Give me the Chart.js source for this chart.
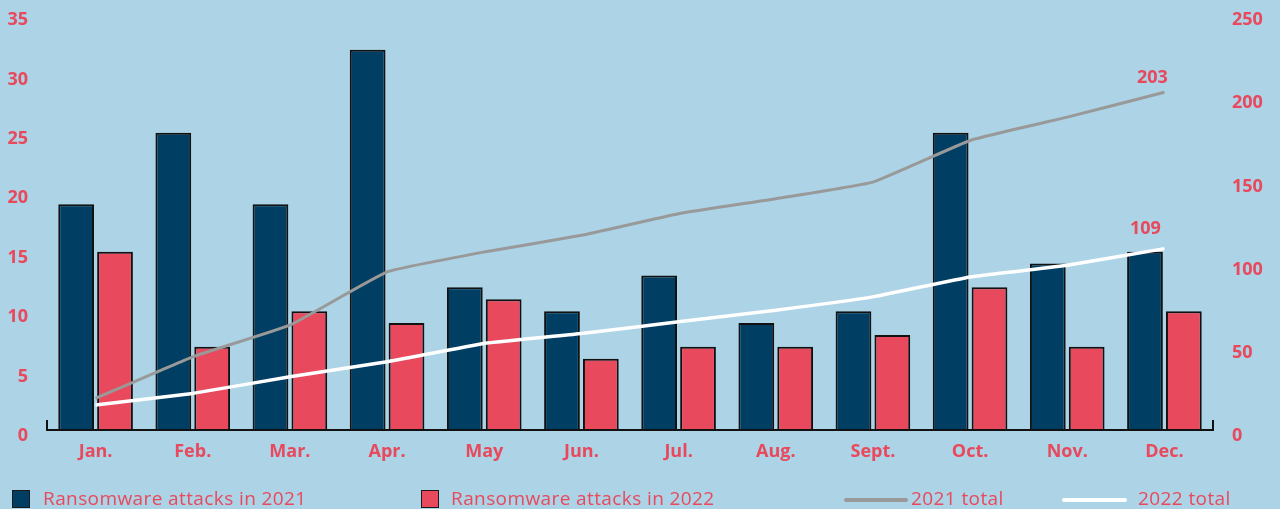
<!DOCTYPE html>
<html><head><meta charset="utf-8">
<script src="https://cdn.jsdelivr.net/npm/chart.js@4"></script>
<style>
html,body{margin:0;padding:0;background:#acd3e6;width:1280px;height:509px;overflow:hidden;}
#wrap{position:relative;width:1280px;height:509px;}
#c{position:absolute;left:0;top:0;}
.lg{position:absolute;font-family:"Open Sans",sans-serif;font-size:19px;letter-spacing:0.4px;color:#e8495d;white-space:nowrap;line-height:19px;}
.sq{position:absolute;width:16px;height:16px;border:1.5px solid #1a1a1a;}
.ln{position:absolute;height:4px;border-radius:2px;}
</style></head>
<body>
<div id="wrap">
<canvas id="c" width="1280" height="509"></canvas>
<div class="sq" style="left:12px;top:490px;background:#003f63"></div>
<div class="lg" style="left:43px;top:489px">Ransomware attacks in 2021</div>
<div class="sq" style="left:421px;top:490px;background:#e8495d"></div>
<div class="lg" style="left:451px;top:489px">Ransomware attacks in 2022</div>
<div class="ln" style="left:844px;top:498px;width:64px;background:#999999"></div>
<div class="lg" style="left:911px;top:489px">2021 total</div>
<div class="ln" style="left:1062px;top:498px;width:65px;background:#ffffff"></div>
<div class="lg" style="left:1138px;top:489px">2022 total</div>
</div>
<script>
const months = ["Jan.","Feb.","Mar.","Apr.","May","Jun.","Jul.","Aug.","Sept.","Oct.","Nov.","Dec."];
const attacks2021 = [19,25,19,32,12,10,13,9,10,25,14,15];
const attacks2022 = [15,7,10,9,11,6,7,7,8,12,7,10];
const total2021 = [19,44,63,95,107,117,130,139,149,174,188,203];
const total2022 = [15,22,32,41,52,58,65,72,80,92,99,109];
const leftTicks = [0,5,10,15,20,25,30,35];
const rightTicks = [0,50,100,150,200,250];

const RED = "#e8495d";
const NAVY = "#003f63";
const FONT = "'Open Sans', sans-serif";

const endLabels = {
  id: "endLabels",
  afterDatasetsDraw(chart) {
    const ctx = chart.ctx;
    ctx.save();
    ctx.font = "bold 18px " + FONT;
    ctx.fillStyle = RED;
    ctx.textAlign = "center";
    ctx.textBaseline = "middle";
    const offs = {2: [-12, -14], 3: [-19, -20]};
    [2, 3].forEach(i => {
      const meta = chart.getDatasetMeta(i);
      const n = meta.data.length - 1;
      const pt = meta.data[n];
      ctx.fillText(String(chart.data.datasets[i].data[n]), pt.x + offs[i][0], pt.y + offs[i][1]);
    });
    ctx.restore();
  }
};

const axisLine = {
  id: "axisLine",
  afterDraw(chart) {
    const a = chart.chartArea, ctx = chart.ctx;
    ctx.save();
    ctx.strokeStyle = "#111";
    ctx.lineWidth = 2;
    ctx.beginPath();
    ctx.moveTo(a.left, a.bottom - 10);
    ctx.lineTo(a.left, a.bottom);
    ctx.lineTo(a.right, a.bottom);
    ctx.lineTo(a.right, a.bottom - 10);
    ctx.stroke();
    ctx.restore();
  }
};

const tickFont = {family: FONT, size: 18, weight: "bold"};

new Chart(document.getElementById("c"), {
  data: {
    labels: months,
    datasets: [
      {type: "bar", label: "Ransomware attacks in 2021", data: attacks2021, backgroundColor: NAVY, borderColor: "#111", borderWidth: 2, yAxisID: "y", categoryPercentage: 0.8, barPercentage: 0.92, order: 2},
      {type: "bar", label: "Ransomware attacks in 2022", data: attacks2022, backgroundColor: RED, borderColor: "#111", borderWidth: 2, yAxisID: "y", categoryPercentage: 0.8, barPercentage: 0.92, order: 2},
      {type: "line", label: "2021 total", data: total2021, borderColor: "#999999", borderWidth: 3, pointRadius: 0, tension: 0.1, borderJoinStyle: "round", yAxisID: "y1", order: 1},
      {type: "line", label: "2022 total", data: total2022, borderColor: "#ffffff", borderWidth: 3.5, pointRadius: 0, tension: 0.1, borderJoinStyle: "round", yAxisID: "y1", order: 0}
    ]
  },
  options: {
    responsive: false,
    animation: false,
    layout: {padding: {top: 14, left: 0, right: 0, bottom: 0}},
    plugins: {legend: {display: false}, tooltip: {enabled: false}},
    scales: {
      x: {
        grid: {display: false, drawTicks: false},
        border: {display: false},
        ticks: {color: RED, font: tickFont, padding: 11, maxRotation: 0},
        afterFit(s) { s.height = 79; s.paddingLeft = 0; s.paddingRight = 0; }
      },
      y: {
        position: "left", min: 0, max: 35,
        grid: {display: false, drawTicks: false},
        border: {display: false},
        afterBuildTicks(s) { s.ticks = leftTicks.map(v => ({value: v})); },
        ticks: {color: RED, font: tickFont, padding: 19, labelOffset: 6},
        afterFit(s) { s.width = 47; s.paddingTop = 0; s.paddingBottom = 0; }
      },
      y1: {
        position: "right", min: 0, max: 250,
        grid: {display: false, drawTicks: false},
        border: {display: false},
        afterBuildTicks(s) { s.ticks = rightTicks.map(v => ({value: v})); },
        ticks: {color: RED, font: tickFont, padding: 19, labelOffset: 6},
        afterFit(s) { s.width = 67; s.paddingTop = 0; s.paddingBottom = 0; }
      }
    }
  },
  plugins: [endLabels, axisLine]
});
</script>
</body></html>
